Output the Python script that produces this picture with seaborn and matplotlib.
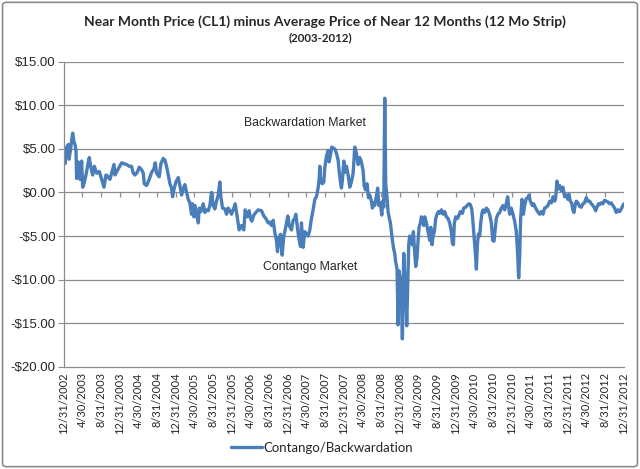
import numpy as np
import pandas as pd
import matplotlib
matplotlib.use('Agg')
import matplotlib.pyplot as plt
import seaborn as sns
from matplotlib.patches import FancyBboxPatch

# months after 12/31/2002 and the spread value
months = [0.0, 0.21, 0.57, 0.93, 1.07, 1.43, 1.64, 1.86, 2.14, 2.36, 2.57, 2.71, 3.07, 3.43, 3.78, 4.00,
          4.28, 4.71, 5.21, 5.42, 5.71, 6.14, 6.50, 7.00, 7.57, 8.07, 8.57, 8.99, 9.28, 9.85, 10.42, 10.71,
          10.92, 11.42, 12.35, 12.85, 13.42, 13.99, 14.49, 14.85, 15.20, 15.70, 16.13, 16.63, 16.99, 17.20,
          17.70, 18.27, 18.77, 19.27, 19.56, 19.84, 20.41, 20.77, 21.27, 21.63, 21.98, 22.34, 22.70, 23.06,
          23.27, 23.55, 23.98, 24.48, 24.84, 25.20, 25.55, 25.91, 26.27, 26.62, 26.98, 27.34, 27.55, 27.84,
          28.05, 28.41, 28.77, 28.98, 29.34, 29.84, 30.19, 30.55, 30.91, 31.26, 31.62, 31.98, 32.33, 32.69,
          33.05, 33.40, 33.62, 33.98, 34.48, 34.83, 35.19, 35.55, 35.90, 36.26, 36.69, 36.97, 37.33, 37.54,
          38.04, 38.54, 38.83, 39.26, 39.69, 39.97, 40.26, 40.69, 41.11, 41.61, 42.33, 42.83, 43.26, 43.76,
          44.11, 44.47, 44.83, 45.18, 45.54, 45.75, 46.11, 46.40, 46.75, 47.11, 47.40, 47.68, 47.97, 48.25,
          48.75, 49.11, 49.46, 49.68, 50.04, 50.32, 50.68, 50.89, 51.25, 51.61, 51.96, 52.32, 52.68, 53.03,
          53.39, 53.75, 54.10, 54.46, 54.68, 54.82, 55.03, 55.39, 55.68, 55.89, 56.25, 56.61, 56.82, 57.11,
          57.39, 57.68, 58.03, 58.39, 58.75, 58.96, 59.25, 59.46, 59.68, 59.96, 60.25, 60.53, 60.89, 61.24,
          61.60, 61.96, 62.32, 62.67, 63.03, 63.39, 63.74, 64.10, 64.32, 64.60, 64.96, 65.24, 65.53, 65.89,
          66.10, 66.39, 66.60, 66.96, 67.24, 67.46, 67.81, 68.10, 68.31, 68.53, 68.74, 68.95, 69.24, 69.45,
          69.66, 69.95, 70.16, 70.38, 70.66, 70.88, 71.09, 71.38, 71.59, 71.81, 72.09, 72.31, 72.52, 72.81,
          73.02, 73.24, 73.45, 73.66, 73.88, 74.09, 74.31, 74.60, 74.88, 75.17, 75.38, 75.66, 75.88, 76.09,
          76.38, 76.59, 76.81, 77.10, 77.31, 77.67, 78.02, 78.38, 78.60, 78.88, 79.10, 79.38, 79.66, 79.95,
          80.24, 80.52, 80.88, 81.23, 81.59, 81.95, 82.31, 82.66, 83.02, 83.23, 83.45, 83.66, 83.95, 84.30,
          84.66, 84.95, 85.38, 85.66, 86.09, 86.38, 86.80, 87.09, 87.38, 87.59, 87.81, 88.02, 88.23, 88.38,
          88.59, 88.81, 89.09, 89.31, 89.60, 89.81, 90.17, 90.52, 90.88, 91.24, 91.59, 91.88, 92.15, 92.37,
          92.65, 93.01, 93.37, 93.72, 94.08, 94.44, 94.79, 95.08, 95.29, 95.51, 95.86, 96.22, 96.58, 96.94,
          97.22, 97.44, 97.65, 97.86, 98.15, 98.44, 98.72, 99.08, 99.43, 99.65, 99.94, 100.37, 100.65, 101.08,
          101.51, 101.93, 102.29, 102.65, 103.00, 103.36, 103.72, 104.08, 104.43, 104.79, 105.15, 105.36,
          105.64, 105.93, 106.22, 106.57, 106.93, 107.29, 107.64, 108.00, 108.21, 108.50, 108.79, 109.07,
          109.28, 109.57, 109.79, 110.14, 110.50, 110.86, 111.21, 111.57, 111.93, 112.28, 112.64, 113.00,
          113.36, 113.71, 113.93, 114.21, 114.57, 114.78, 115.14, 115.50, 115.85, 116.21, 116.57, 116.92,
          117.28, 117.64, 118.00, 118.35, 118.71, 119.07, 119.42, 119.78, 120.0]

spread = [4.5, 3.3, 5.2, 5.5, 3.8, 5.0, 6.0, 6.8, 5.8, 5.5, 4.8, 1.6, 3.5, 1.5, 3.6, 0.6,
          1.0, 2.0, 3.5, 4.0, 3.0, 2.0, 3.0, 2.2, 2.4, 1.5, 0.6, 2.0, 1.9, 1.5, 2.6, 3.2,
          2.0, 2.5, 3.4, 3.3, 3.2, 3.0, 3.0, 2.2, 2.0, 2.3, 2.9, 2.6, 2.2, 1.0,
          0.8, 1.5, 2.3, 2.7, 3.4, 2.2, 1.8, 3.3, 3.9, 3.7, 3.0, 2.0, 1.0, 0.5,
          -0.5, 0.3, 1.2, 1.7, 0.8, -0.3, 0.4, 0.9, 0.0, -0.8, -1.2, -2.5, -1.3, -2.8,
          -1.5, -2.5, -3.5, -1.8, -2.2, -1.3, -2.3, -2.0, -2.1, -1.5, 0.0, -1.5, -1.9, -1.0,
          -0.3, 1.2, -0.5, -1.8, -1.9, -2.5, -1.8, -2.1, -2.5, -2.0, -1.3, -2.3, -3.5, -4.3,
          -3.8, -4.3, -2.0, -2.8, -2.1, -3.0, -3.3, -2.6, -2.3, -2.0, -2.1, -2.7, -3.0, -3.5,
          -3.4, -3.8, -3.2, -4.6, -5.5, -6.8, -5.2, -4.8, -7.2, -5.0, -4.3, -3.5, -2.7, -3.8,
          -4.3, -3.2, -3.0, -2.5, -4.1, -5.2, -6.2, -3.5, -6.3, -4.5, -4.8, -5.0, -4.3, -3.0,
          -2.0, -0.8, -0.5, 0.5, 1.5, 3.0, 1.2, 1.0, 1.2, 2.8, 4.2, 4.8, 3.5, 4.3,
          5.2, 5.1, 5.0, 4.5, 3.7, 2.5, 1.2, 0.5, 1.5, 3.6, 2.3, 3.0, 2.0, 0.6,
          1.2, 2.2, 5.2, 4.5, 3.2, 4.0, 3.5, 2.5, 0.8, 0.3, 1.0, -0.6, -0.3, -1.0,
          -1.8, -1.2, -1.5, -0.4, 0.5, -1.5, -1.2, -2.6, -1.0, -1.7, 10.8, 1.0, -0.6, -2.2,
          -2.8, -3.5, -4.5, -5.5, -6.5, -7.0, -8.0, -8.8, -15.2, -9.0, -10.0, -12.0, -16.8, -7.0,
          -9.5, -11.5, -15.3, -10.5, -6.0, -5.0, -5.5, -6.0, -4.5, -7.0, -8.5, -7.5, -5.5, -4.0,
          -3.5, -2.8, -3.0, -3.8, -2.8, -3.5, -4.5, -5.5, -4.0, -6.0, -5.0, -4.5, -3.0, -2.5,
          -2.2, -2.4, -2.0, -2.5, -2.2, -2.8, -3.0, -3.5, -4.5, -5.8, -6.0, -3.5, -2.8, -3.0,
          -2.6, -2.2, -2.4, -1.8, -1.7, -1.5, -1.3, -1.4, -1.9, -3.0, -4.5, -5.8, -7.5, -8.8,
          -6.0, -4.8, -5.0, -3.5, -2.3, -2.0, -2.3, -1.8, -2.0, -2.6, -3.5, -5.5, -5.6, -4.5,
          -3.0, -2.5, -2.3, -1.8, -1.5, -2.0, -1.3, -0.5, -1.6, -2.5, -1.8, -2.5, -3.3, -4.5,
          -7.0, -9.8, -7.5, -3.0, -0.8, -2.5, -1.5, -0.7, -0.6, -0.3, -1.0, -1.5, -1.3, -1.8,
          -2.2, -2.5, -2.2, -2.5, -1.8, -1.7, -1.5, -1.0, -1.2, -0.5, -1.0, -0.7,
          1.3, 0.4, 0.8, 0.2, 0.6, -0.5, -0.3, -0.8, -0.2, -1.0, -1.2, -2.0,
          -2.3, -1.4, -1.0, -1.2, -1.6, -1.7, -1.3, -1.2, -0.6, -1.0, -1.0, -1.3,
          -1.5, -1.8, -2.1, -1.7, -1.3, -1.4, -1.2, -1.3, -0.9, -1.0, -1.1, -1.3,
          -1.2, -1.5, -1.8, -2.3, -2.0, -2.2, -1.9, -1.5, -1.3]

tick_labels = ['12/31/2002', '4/30/2003', '8/31/2003', '12/31/2003', '4/30/2004', '8/31/2004',
               '12/31/2004', '4/30/2005', '8/31/2005', '12/31/2005', '4/30/2006', '8/31/2006',
               '12/31/2006', '4/30/2007', '8/31/2007', '12/31/2007', '4/30/2008', '8/31/2008',
               '12/31/2008', '4/30/2009', '8/31/2009', '12/31/2009', '4/30/2010', '8/31/2010',
               '12/31/2010', '4/30/2011', '8/31/2011', '12/31/2011', '4/30/2012', '8/31/2012',
               '12/31/2012']

start = pd.Timestamp('2002-12-31')
df = pd.DataFrame({'date': start + pd.to_timedelta(np.array(months) * 30.4375, unit='D'),
                   'value': spread})
tick_dates = pd.to_datetime(tick_labels, format='%m/%d/%Y')

sns.set_style('white')
plt.rcParams['font.family'] = ['Lato', 'DejaVu Sans']

fig = plt.figure(figsize=(6.4, 4.69), dpi=100)
ax = fig.add_axes([0.1, 0.218, 0.875, 0.6505])

grid_col = '#8c8c8c'
for v in range(-15, 16, 5):
    ax.axhline(v, color=grid_col, lw=0.9, zorder=0)

sns.lineplot(data=df, x='date', y='value', ax=ax, color='#4A7EBB', linewidth=2.4,
             label='Contango/Backwardation', legend=False)

# small tick marks along the zero line
ax.vlines(tick_dates, -0.55, 0, color=grid_col, lw=0.9, zorder=0)

ax.set_xlim(tick_dates[0], tick_dates[-1])
ax.set_ylim(-20, 15)
ax.set_yticks(range(-20, 16, 5))
ax.set_yticklabels([('-$%.2f' % abs(v)) if v < 0 else ('$%.2f' % v) for v in range(-20, 16, 5)],
                   fontsize=9.5, family='Liberation Sans')
ax.set_xticks(tick_dates)
ax.set_xticklabels(tick_labels, rotation=90, fontsize=8)
ax.tick_params(axis='y', which='both', left=True, length=4, color=grid_col, pad=2)
ax.tick_params(axis='x', length=0, pad=4)
ax.set_xlabel('')
ax.set_ylabel('')
for s in ['top', 'right']:
    ax.spines[s].set_visible(False)
ax.spines['left'].set_color(grid_col)
ax.spines['bottom'].set_color(grid_col)
ax.spines['left'].set_linewidth(0.9)
ax.spines['bottom'].set_linewidth(0.9)

ax.text(0.321, 0.80, 'Backwardation Market', transform=ax.transAxes, fontsize=8.8,
        family='Liberation Sans', va='center', ha='left')
ax.text(0.356, 0.326, 'Contango Market', transform=ax.transAxes, fontsize=8.8,
        family='Liberation Sans', va='center', ha='left')

fig.text(0.507, 0.954, 'Near Month Price (CL1) minus Average Price of Near 12 Months (12 Mo Strip)',
         ha='center', va='center', fontsize=10, fontweight='bold')
fig.text(0.5, 0.92, '(2003-2012)', ha='center', va='center', fontsize=8.3, fontweight='bold')

h, l = ax.get_legend_handles_labels()
fig.legend(h, l, loc='center', bbox_to_anchor=(0.503, 0.045), frameon=False, fontsize=9.5,
           handlelength=2.3, handletextpad=0.1)

border = FancyBboxPatch((0.004, 0.005), 0.992, 0.99, boxstyle='round,pad=0,rounding_size=0.006',
                        transform=fig.transFigure, fill=False, edgecolor='#8c8c8c', lw=1.2)
fig.patches.append(border)

fig.savefig('out.png', dpi=100)
